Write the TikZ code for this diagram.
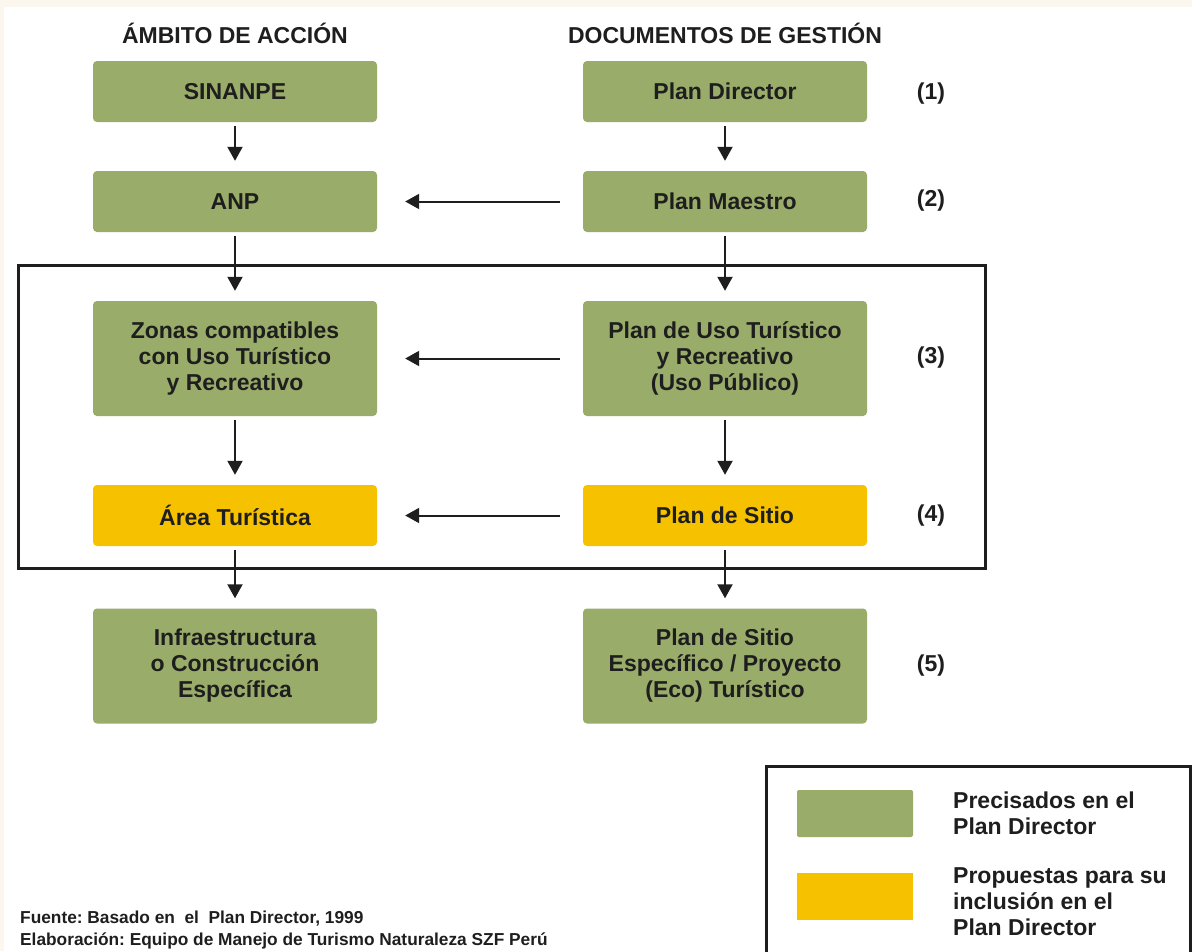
\documentclass[tikz,border=0pt]{standalone}
\usepackage{fontspec}
\setmainfont{Liberation Sans}
\usetikzlibrary{arrows.meta,positioning}
\definecolor{boxgreen}{RGB}{154,172,106}
\definecolor{boxyellow}{RGB}{246,194,0}
\definecolor{cream}{RGB}{251,247,238}
\definecolor{ink}{RGB}{30,30,30}
\frenchspacing

\begin{document}
\begin{tikzpicture}[x=1pt,y=-1pt,
	box/.style={rounded corners=4pt, minimum width=284pt, minimum height=61pt,
		inner sep=0pt, align=center, text=ink, font=\fontsize{23}{26}\selectfont\bfseries},
	tallbox/.style={box, minimum height=115pt},
	greenbox/.style={fill=boxgreen},
	yellowbox/.style={fill=boxyellow},
	label/.style={text=ink, font=\fontsize{23}{26}\selectfont\bfseries},
	arr/.style={-{Triangle[width=15pt,length=14pt]}, line width=2pt, draw=ink,
		shorten <=4pt, shorten >=10pt},
	harr/.style={arr, shorten <=23pt, shorten >=28pt}]

% background
\fill[cream] (0,0) rectangle (1192,951);
\fill[white] (4,7) rectangle (1192,951);
\useasboundingbox (0,0) rectangle (1192,951);

% headers
\node[label] (hleft) at (235,33) {ÁMBITO DE ACCIÓN};
\node[label] (hright) at (725,33) {DOCUMENTOS DE GESTIÓN};

% frame round (3) and (4)
\draw[line width=3pt, ink] (18,265) rectangle (985,568);

% left column
\node[box, greenbox] (sinanpe) at (235,91.5) {SINANPE};
\node[box, greenbox] (anp) at (235,201.5) {ANP};
\node[tallbox, greenbox] (zonas) at (235,358.5) {Zonas compatibles\\con Uso Turístico\\y Recreativo};
\node[box, yellowbox] (area) at (235,515.5) {Área Turística};
\node[tallbox, greenbox] (infra) at (235,666) {Infraestructura\\o Construcción\\Específica};

% right column
\node[box, greenbox] (director) at (725,91.5) {Plan Director};
\node[box, greenbox] (maestro) at (725,201.5) {Plan Maestro};
\node[tallbox, greenbox] (uso) at (725,358.5) {Plan de Uso Turístico\\y Recreativo\\(Uso Público)};
\node[box, yellowbox] (sitio) at (725,515.5) {Plan de Sitio};
\node[tallbox, greenbox] (especifico) at (725,666) {Plan de Sitio\\Específico / Proyecto\\(Eco) Turístico};

% levels
\node[label] (num1) at (931,94) {(1)};
\node[label] (num2) at (931,201) {(2)};
\node[label] (num3) at (931,358) {(3)};
\node[label] (num4) at (931,516) {(4)};
\node[label] (num5) at (931,666) {(5)};

% vertical arrows
\draw[arr] (sinanpe) -- (anp);
\draw[arr] (anp) -- (zonas);
\draw[arr] (zonas) -- (area);
\draw[arr] (area) -- (infra);
\draw[arr] (director) -- (maestro);
\draw[arr] (maestro) -- (uso);
\draw[arr] (uso) -- (sitio);
\draw[arr] (sitio) -- (especifico);

% horizontal arrows
\draw[harr] (maestro) -- (anp);
\draw[harr] (uso) -- (zonas);
\draw[harr] (sitio) -- (area);

% legend
\draw[line width=3pt, ink] (766,766) rectangle (1190,953);
\node[box, greenbox, minimum width=116pt, minimum height=47pt, rounded corners=2pt] (lgreen) at (855,813.5) {};
\node[box, yellowbox, minimum width=116pt, minimum height=47pt, rounded corners=0pt] (lyellow) at (855,896.5) {};
\node[label, anchor=west, align=left, inner sep=0pt] (tgreen) at (953,813) {Precisados en el\\Plan Director};
\node[label, anchor=west, align=left, inner sep=0pt] (tyellow) at (953,902) {Propuestas para su\\inclusión en el\\Plan Director};

% source
\node[text=ink, anchor=west, align=left, inner sep=0pt,
	font=\fontsize{17.3}{21.5}\selectfont\bfseries] (fuente) at (20,930)
	{Fuente: Basado en \ el \ Plan Director, 1999\\Elaboración: Equipo de Manejo de Turismo Naturaleza SZF Perú};

\end{tikzpicture}
\end{document}
